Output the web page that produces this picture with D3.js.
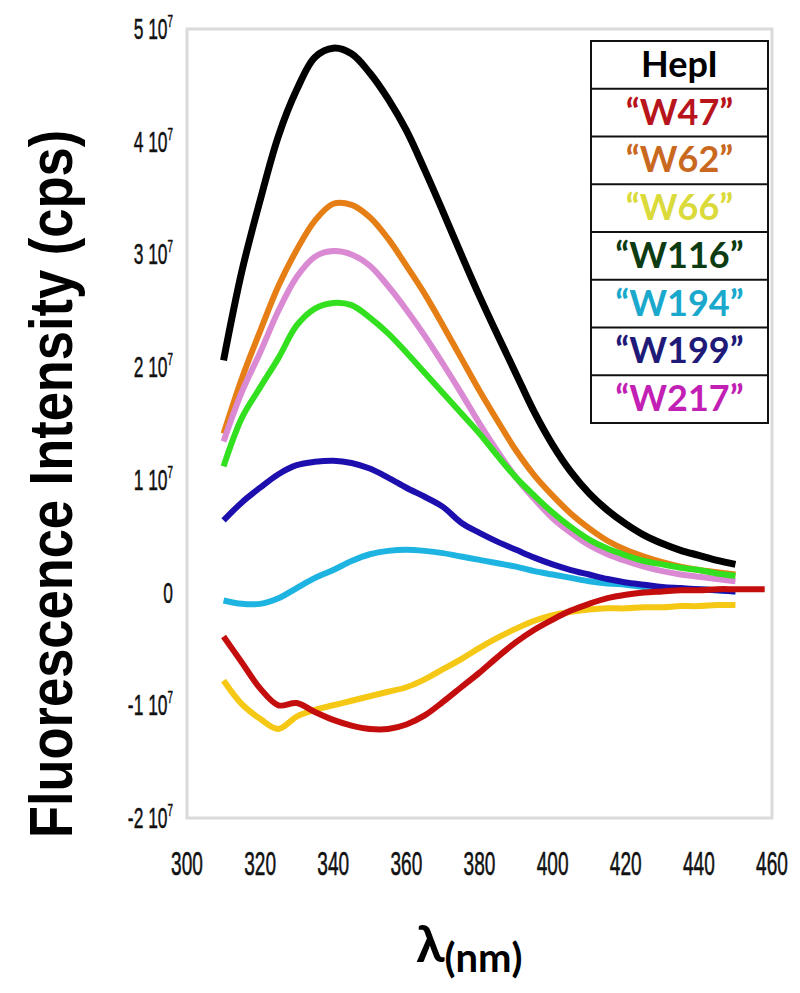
<!DOCTYPE html>
<html>
<head>
<meta charset="utf-8">
<script src="https://cdn.jsdelivr.net/npm/d3@7/dist/d3.min.js"></script>
<style>
  body { margin: 0; background: #fff; }
</style>
</head>
<body>
<div id="chart"></div>
<script>
// emission wavelengths (nm), values in units of 10^7 cps
var wavelengths = [310,315,320,325,330,335,340,345,350,355,360,365,370,375,380,385,390,395,400,405,410,415,420,425,430,435,440,445,450];
var wavelengthsW47 = wavelengths.concat([455,458]);

var hepI  = [2.06,2.85,3.48,4.05,4.46,4.75,4.83,4.78,4.61,4.38,4.10,3.75,3.38,3.00,2.63,2.28,1.94,1.60,1.31,1.07,0.88,0.73,0.61,0.51,0.435,0.375,0.33,0.285,0.25];
var w47   = [-0.39,-0.62,-0.85,-1.00,-0.98,-1.06,-1.13,-1.18,-1.21,-1.21,-1.17,-1.09,-0.97,-0.84,-0.71,-0.57,-0.44,-0.33,-0.24,-0.16,-0.10,-0.05,-0.02,0.00,0.01,0.02,0.02,0.03,0.03,0.03,0.03];
var w62   = [1.41,1.90,2.32,2.72,3.04,3.30,3.45,3.44,3.33,3.14,2.90,2.65,2.37,2.08,1.79,1.52,1.26,1.04,0.86,0.70,0.57,0.46,0.38,0.32,0.27,0.23,0.20,0.18,0.16];
var w66   = [-0.78,-0.99,-1.12,-1.21,-1.10,-1.04,-1.00,-0.96,-0.92,-0.88,-0.84,-0.77,-0.68,-0.59,-0.49,-0.40,-0.32,-0.25,-0.20,-0.17,-0.15,-0.14,-0.14,-0.13,-0.13,-0.12,-0.12,-0.11,-0.11];
var w116  = [1.12,1.55,1.82,2.08,2.37,2.52,2.57,2.55,2.44,2.30,2.13,1.95,1.77,1.59,1.41,1.21,1.02,0.86,0.71,0.58,0.47,0.39,0.33,0.28,0.25,0.22,0.20,0.17,0.15];
var w194  = [-0.07,-0.10,-0.10,-0.05,0.04,0.13,0.20,0.28,0.34,0.37,0.38,0.37,0.35,0.32,0.29,0.26,0.23,0.19,0.16,0.13,0.10,0.08,0.07,0.05,0.04,0.03,0.03,0.02,0.01];
var w199  = [0.64,0.80,0.93,1.05,1.13,1.16,1.17,1.15,1.10,1.02,0.93,0.85,0.76,0.62,0.53,0.45,0.38,0.31,0.25,0.20,0.16,0.12,0.09,0.07,0.05,0.04,0.03,0.02,0.01];
var w217  = [1.34,1.78,2.13,2.50,2.80,2.98,3.03,3.00,2.90,2.72,2.51,2.28,2.03,1.77,1.50,1.25,1.02,0.83,0.66,0.53,0.42,0.34,0.28,0.23,0.19,0.16,0.14,0.12,0.10];

var xTicks = [300,320,340,360,380,400,420,440,460];
var yTicks = [5,4,3,2,1,0,-1,-2];

var legendTitle = "HepI";
var legendLabels = ["\u201cW47\u201d","\u201cW62\u201d","\u201cW66\u201d","\u201cW116\u201d","\u201cW194\u201d","\u201cW199\u201d","\u201cW217\u201d"];
var legendColors = ["#b8141c","#c9691f","#dada3a","#0d3b12","#1aa9cc","#1f1a78","#c21fb4"];

// draw order: later ones on top
var series = [
  {x: wavelengths, y: w194, color: "#1db4e2", w: 6},
  {x: wavelengths, y: w66,  color: "#f5c816", w: 6},
  {x: wavelengths, y: w62,  color: "#e57e15", w: 6},
  {x: wavelengths, y: w217, color: "#d98ad2", w: 6},
  {x: wavelengths, y: w116, color: "#33e01f", w: 6},
  {x: wavelengths, y: w199, color: "#1d0fae", w: 6},
  {x: wavelengthsW47, y: w47, color: "#c40d0d", w: 6},
  {x: wavelengths, y: hepI, color: "#000000", w: 7}
];

var svg = d3.select("#chart").append("svg")
    .attr("width", 800)
    .attr("height", 993);

var x = d3.scaleLinear().domain([300, 460]).range([187, 772]);
var y = d3.scaleLinear().domain([-2, 5]).range([818, 29]);

// plot frame
svg.append("rect")
    .attr("x", x(300)).attr("y", y(5))
    .attr("width", x(460) - x(300))
    .attr("height", y(-2) - y(5))
    .attr("fill", "none")
    .attr("stroke", "#dadada")
    .attr("stroke-width", 3);

var line = d3.line().curve(d3.curveCatmullRom.alpha(0.5));

svg.append("g").selectAll("path")
    .data(series)
    .enter().append("path")
      .attr("d", function(s){ return line(s.x.map(function(v, i){ return [x(v), y(s.y[i])]; })); })
      .attr("fill", "none")
      .attr("stroke", function(s){ return s.color; })
      .attr("stroke-width", function(s){ return s.w; })
      .attr("stroke-linecap", "butt")
      .attr("stroke-linejoin", "round");

// x tick labels (narrow type)
svg.append("g").selectAll("g")
    .data(xTicks)
    .enter().append("g")
      .attr("transform", function(d){ return "translate(" + x(d) + ",875) scale(0.56,1)"; })
    .append("text")
      .attr("text-anchor", "middle")
      .style("font-family", "'Liberation Sans', Arial, sans-serif")
      .style("font-size", "34px")
      .style("stroke", "#111")
      .style("stroke-width", "0.6px")
      .style("fill", "#111")
      .text(function(d){ return d; });

// y tick labels "n 10^7"
var yl = svg.append("g").selectAll("g")
    .data(yTicks)
    .enter().append("g")
      .attr("transform", function(d){ return "translate(173," + (y(d) + 10) + ") scale(0.58,1)"; })
    .append("text")
      .attr("text-anchor", "end")
      .style("font-family", "'Liberation Sans', Arial, sans-serif")
      .style("font-size", "30px")
      .style("stroke", "#111")
      .style("stroke-width", "0.5px")
      .style("fill", "#111");
yl.each(function(d){
  var t = d3.select(this);
  if (d === 0) { t.text("0"); return; }
  t.append("tspan").text(d + " 10");
  t.append("tspan").attr("dy", -12).style("font-size", "17px").text("7");
});

// y axis title
svg.append("g")
    .attr("transform", "translate(72,484) rotate(-90) scale(0.86,1)")
  .append("text")
    .attr("text-anchor", "middle")
    .style("font-family", "'Liberation Sans', Arial, sans-serif")
    .style("font-weight", "bold")
    .style("font-size", "61px")
    .style("fill", "#000")
    .text("Fluorescence Intensity (cps)");

// x axis title
var xt = svg.append("text")
    .attr("x", 416).attr("y", 962)
    .style("font-family", "Lato, 'Open Sans', sans-serif")
    .style("font-weight", "bold")
    .style("fill", "#000");
xt.append("tspan").style("font-size", "52px").text("\u03bb");
xt.append("tspan").attr("dy", 10).style("font-size", "40px").text("(nm)");

// legend table
var lgLeft = 591, lgTop = 41, lgW = 177, rowH = 47.75;
var rows = [{label: legendTitle, color: "#000"}].concat(legendLabels.map(function(l, i){ return {label: l, color: legendColors[i]}; }));
var lg = svg.append("g");
lg.append("rect")
    .attr("x", lgLeft).attr("y", lgTop)
    .attr("width", lgW).attr("height", rowH * rows.length)
    .attr("fill", "#fff")
    .attr("stroke", "#111")
    .attr("stroke-width", 2);
lg.selectAll("line")
    .data(d3.range(1, rows.length))
    .enter().append("line")
      .attr("x1", lgLeft).attr("x2", lgLeft + lgW)
      .attr("y1", function(i){ return lgTop + i * rowH; })
      .attr("y2", function(i){ return lgTop + i * rowH; })
      .attr("stroke", "#111")
      .attr("stroke-width", 2);
lg.selectAll("text")
    .data(rows)
    .enter().append("text")
      .attr("x", lgLeft + lgW / 2)
      .attr("y", function(d, i){ return lgTop + i * rowH + rowH / 2 + 12; })
      .attr("text-anchor", "middle")
      .style("font-family", "Lato, 'Open Sans', sans-serif")
      .style("font-weight", "bold")
      .style("font-size", "36px")
      .style("fill", function(d){ return d.color; })
      .text(function(d){ return d.label; });
</script>
</body>
</html>
